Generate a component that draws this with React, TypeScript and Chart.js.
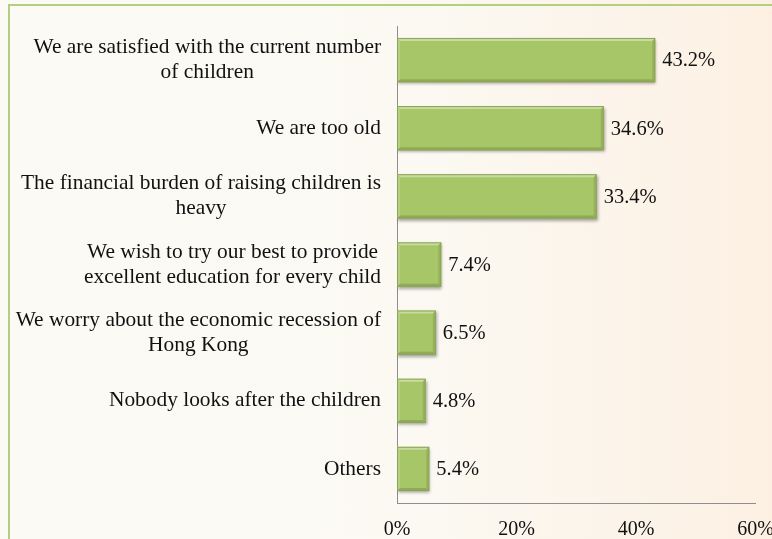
import React, { useEffect, useRef } from "react";
import { Chart, registerables } from "chart.js";

Chart.register(...registerables);

const categories: string[][] = [
  ["We are satisfied with the current number", "of children"],
  ["We are too old"],
  ["The financial burden of raising children is", "heavy"],
  ["We wish to try our best to provide", "excellent education for every child"],
  ["We worry about the economic recession of", "Hong Kong"],
  ["Nobody looks after the children"],
  ["Others"],
];
const values: number[] = [43.2, 34.6, 33.4, 7.4, 6.5, 4.8, 5.4];
const xMin = 0;
const xMax = 60;
const xStep = 20;

const SERIF = '"Liberation Serif", "Times New Roman", serif';

const labelPlugin = {
  id: "customLabels",
  beforeDatasetsDraw(chart: any) {
    const ctx = chart.ctx;
    ctx.save();
    ctx.shadowColor = "rgba(0,0,0,0.35)";
    ctx.shadowBlur = 3;
    ctx.shadowOffsetX = 1;
    ctx.shadowOffsetY = 2;
  },
  afterDatasetsDraw(chart: any) {
    const ctx = chart.ctx;
    ctx.restore();
    const meta = chart.getDatasetMeta(0);
    meta.data.forEach((el: any, i: number) => {
      const p = el.getProps(["x", "y", "base", "height"], true);
      const l = Math.min(p.base, p.x);
      const r = Math.max(p.base, p.x);
      const t = p.y - p.height / 2;
      const bt = p.y + p.height / 2;
      const b = 3;
      const poly = (pts: number[][], color: string) => {
        ctx.beginPath();
        ctx.moveTo(pts[0][0], pts[0][1]);
        for (let k = 1; k < pts.length; k++) ctx.lineTo(pts[k][0], pts[k][1]);
        ctx.closePath();
        ctx.fillStyle = color;
        ctx.fill();
      };
      poly([[l, t], [r, t], [r - b, t + b], [l + b, t + b]], "rgba(255,255,255,0.38)");
      poly([[l, t], [l + b, t + b], [l + b, bt - b], [l, bt]], "rgba(255,255,255,0.18)");
      poly([[l, bt], [l + b, bt - b], [r - b, bt - b], [r, bt]], "rgba(60,80,20,0.22)");
      poly([[r, t], [r, bt], [r - b, bt - b], [r - b, t + b]], "rgba(60,80,20,0.16)");
      ctx.strokeStyle = "#8BA457";
      ctx.lineWidth = 1;
      ctx.strokeRect(l + 0.5, t + 0.5, r - l - 1, bt - t - 1);

      ctx.fillStyle = "#111";
      ctx.font = `20.5px ${SERIF}`;
      ctx.textAlign = "left";
      ctx.textBaseline = "middle";
      ctx.fillText(values[i].toFixed(1) + "%", r + 7, p.y + 1);
    });

    // category labels (right aligned block, lines centered within block)
    const yScale = chart.scales.y;
    const rightX = chart.chartArea.left - 16;
    ctx.font = `21.4px ${SERIF}`;
    ctx.fillStyle = "#111";
    ctx.textAlign = "center";
    ctx.textBaseline = "middle";
    const lh = 25;
    categories.forEach((lines, i) => {
      const widest = Math.max(...lines.map((s) => ctx.measureText(s).width));
      const cx = rightX - widest / 2;
      const cy = yScale.getPixelForValue(i);
      const y0 = cy - ((lines.length - 1) * lh) / 2;
      lines.forEach((s, k) => ctx.fillText(s, cx, y0 + k * lh));
    });
  },
};

export default function App() {
  const ref = useRef<HTMLCanvasElement | null>(null);
  useEffect(() => {
    if (!ref.current) return;
    const chart = new Chart(ref.current, {
      type: "bar",
      data: {
        labels: categories.map((c) => c.join(" ")),
        datasets: [
          {
            data: values,
            backgroundColor: "#A7C668",
            borderColor: "#7F9A48",
            borderWidth: 0,
            barPercentage: 0.65,
            categoryPercentage: 1,
          },
        ],
      },
      options: {
        indexAxis: "y",
        responsive: false,
        animation: false,
        layout: { padding: { top: 26, left: 0, right: 0, bottom: 0 } },
        plugins: { legend: { display: false }, tooltip: { enabled: false } },
        scales: {
          x: {
            min: xMin,
            max: xMax,
            ticks: {
              stepSize: xStep,
              callback: (v: any) => v + "%",
              font: { family: SERIF, size: 20 },
              color: "#111",
              padding: 7,
              maxRotation: 0,
            },
            grid: { display: false },
            border: { display: true, color: "#8E8E8E", width: 1 },
            afterFit: (s: any) => {
              s.height = 36;
            },
          },
          y: {
            ticks: { display: false },
            grid: { display: false },
            border: { display: true, color: "#8E8E8E", width: 1 },
            afterFit: (s: any) => {
              s.width = 397;
            },
          },
        },
      } as any,
      plugins: [labelPlugin],
    });
    return () => chart.destroy();
  }, []);

  return (
    <div
      style={{
        position: "fixed",
        left: 0,
        top: 0,
        width: 772,
        height: 539,
        overflow: "hidden",
        background: "linear-gradient(90deg, #FBFAF5 0%, #FBF9F2 55%, #FDF0E3 100%)",
      }}
    >
      <div
        style={{
          position: "absolute",
          left: 8,
          top: 4,
          width: 900,
          height: 700,
          border: "2px solid #B2CF82",
        }}
      />
      <canvas
        ref={ref}
        width={781}
        height={539}
        style={{ position: "absolute", left: 0, top: 0, width: 781, height: 539 }}
      />
    </div>
  );
}
